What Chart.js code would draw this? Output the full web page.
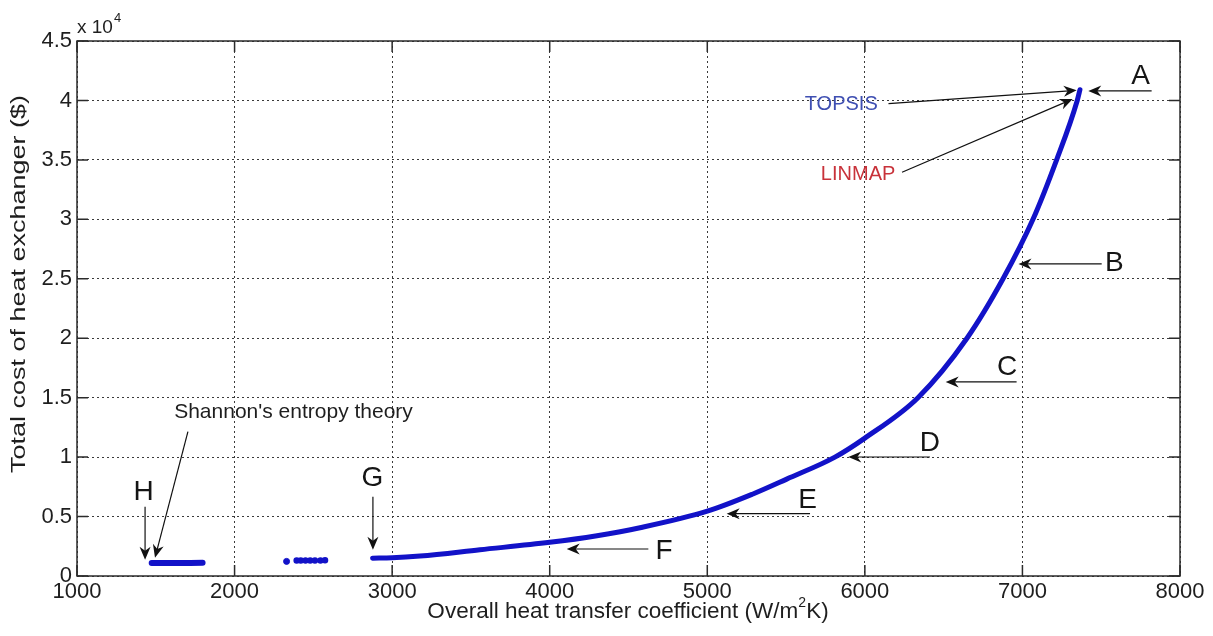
<!DOCTYPE html>
<html>
<head>
<meta charset="utf-8">
<script src="https://cdn.jsdelivr.net/npm/chart.js@4.4.1/dist/chart.umd.min.js"></script>
<style>
  html, body { margin: 0; padding: 0; background: #ffffff; }
  #wrap { width: 1213px; height: 636px; }
</style>
</head>
<body>
<div id="wrap"><canvas id="c" width="1213" height="636"></canvas></div>
<script>
// Pareto front: overall heat transfer coefficient (W/m2K) vs total cost ($)
const frontU    = [2876, 3000, 3177, 3557, 4000, 4300, 4573, 5000, 5290, 5504, 5810, 6000, 6337, 6648, 6877, 7067, 7217, 7348, 7365];
const frontCost = [1500, 1530, 1680, 2210, 2830, 3390, 4060, 5450, 6900, 8150, 10000, 11600, 15000, 20000, 25000, 30000, 35000, 40000, 40900];

// Low-cost branch near point H
const branchHU    = [1474, 1560, 1650, 1720, 1797];
const branchHCost = [1090, 1095, 1100, 1100, 1105];

// Isolated solutions between H and G
const midU    = [2394, 2420, 2450, 2480, 2510, 2545, 2574];
const midCost = [1300, 1310, 1310, 1310, 1310, 1310, 1315];
const lonelyU    = [2330];
const lonelyCost = [1230];

// Axis ticks
const xTicks = [1000, 2000, 3000, 4000, 5000, 6000, 7000, 8000];
const yTicks = [0, 5000, 10000, 15000, 20000, 25000, 30000, 35000, 40000, 45000];

const toPts = (xs, ys) => xs.map((x, i) => ({ x: x, y: ys[i] }));

const BLUE = '#1212c8';
const FONT = '"Liberation Sans", Arial, Helvetica, sans-serif';

// Labels with their arrows, placed in data units
const letterNotes = [
  { t: 'A', at: [7750, 42000], from: [7820, 40800], to: [7418, 40800] },
  { t: 'B', at: [7583, 26300], from: [7503, 26250], to: [6975, 26250] },
  { t: 'C', at: [6902, 17560], from: [6963, 16320], to: [6513, 16320] },
  { t: 'D', at: [6413, 11130], from: [6413, 10010], to: [5895, 10010] },
  { t: 'E', at: [5636, 6350],  from: [5652, 5240],  to: [5123, 5240] },
  { t: 'F', at: [4725, 2070],  from: [4626, 2270],  to: [4108, 2270] },
  { t: 'G', at: [2875, 8230],  from: [2878, 6670],  to: [2878, 2210] },
  { t: 'H', at: [1422, 7010],  from: [1432, 5830],  to: [1432, 1370] }
];
const textNotes = [
  { t: 'TOPSIS', color: '#3f4fb2', size: 20, at: [5850, 39650], from: [6150, 39740], to: [7344, 40850] },
  { t: 'LINMAP', color: '#c8323a', size: 20, at: [5957, 33760], from: [6236, 33960], to: [7319, 40120] },
  { t: "Shannon's entropy theory", color: '#1e1e1e', size: 21, at: [2374, 13740], from: [1704, 12150], to: [1495, 1540] }
];

function arrow(ctx, x1, y1, x2, y2) {
  const ang = Math.atan2(y2 - y1, x2 - x1);
  const L = 13, W = 5.5, N = 4;
  ctx.beginPath();
  ctx.moveTo(x1, y1);
  ctx.lineTo(x2 - Math.cos(ang) * N, y2 - Math.sin(ang) * N);
  ctx.stroke();
  ctx.save();
  ctx.translate(x2, y2);
  ctx.rotate(ang);
  ctx.beginPath();
  ctx.moveTo(0, 0);
  ctx.lineTo(-L, -W);
  ctx.lineTo(-L + N, 0);
  ctx.lineTo(-L, W);
  ctx.closePath();
  ctx.fill();
  ctx.restore();
}

const decorPlugin = {
  id: 'decor',
  afterDraw(chart) {
    const ctx = chart.ctx;
    const a = chart.chartArea;
    const xs = chart.scales.x, ys = chart.scales.y;
    const px = v => xs.getPixelForValue(v), py = v => ys.getPixelForValue(v);
    ctx.save();

    // box and inward tick marks
    ctx.strokeStyle = '#2b2b2b';
    ctx.lineWidth = 1.5;
    ctx.setLineDash([]);
    ctx.strokeRect(a.left, a.top, a.right - a.left, a.bottom - a.top);
    const tl = 11;
    ctx.beginPath();
    xs.ticks.forEach(t => {
      const x = px(t.value);
      ctx.moveTo(x, a.bottom); ctx.lineTo(x, a.bottom - tl);
      ctx.moveTo(x, a.top);    ctx.lineTo(x, a.top + tl);
    });
    ys.ticks.forEach(t => {
      const y = py(t.value);
      ctx.moveTo(a.left, y);  ctx.lineTo(a.left + tl, y);
      ctx.moveTo(a.right, y); ctx.lineTo(a.right - tl, y);
    });
    ctx.stroke();

    // exponent label
    ctx.fillStyle = '#1e1e1e';
    ctx.textBaseline = 'alphabetic';
    ctx.textAlign = 'left';
    ctx.font = '19px ' + FONT;
    ctx.fillText('x 10', a.left, a.top - 8);
    const w10 = ctx.measureText('x 10').width;
    ctx.font = '13px ' + FONT;
    ctx.fillText('4', a.left + w10 + 1, a.top - 19);

    // x axis title, with superscript
    const xt1 = 'Overall heat transfer coefficient (W/m', xt2 = 'K)';
    const fx = 22.5, fs = 14;
    ctx.textBaseline = 'middle';
    ctx.font = fx + 'px ' + FONT;
    const w1 = ctx.measureText(xt1).width, w3 = ctx.measureText(xt2).width;
    ctx.font = fs + 'px ' + FONT;
    const w2 = ctx.measureText('2').width;
    const total = w1 + w2 + w3;
    const cx = 628, cy = 612;
    const sx = cx - total / 2;
    ctx.font = fx + 'px ' + FONT;
    ctx.fillText(xt1, sx, cy);
    ctx.font = fs + 'px ' + FONT;
    ctx.fillText('2', sx + w1, cy - 9);
    ctx.font = fx + 'px ' + FONT;
    ctx.fillText(xt2, sx + w1 + w2, cy);

    // y axis title
    ctx.save();
    ctx.translate(19, 284);
    ctx.rotate(-Math.PI / 2);
    ctx.textAlign = 'center';
    ctx.font = '21px ' + FONT;
    const yt = 'Total cost of heat exchanger ($)';
    const wy = ctx.measureText(yt).width;
    ctx.scale(378 / wy, 1);
    ctx.fillText(yt, 0, 0);
    ctx.restore();

    // annotations
    ctx.strokeStyle = '#111111';
    ctx.fillStyle = '#111111';
    ctx.lineWidth = 1.2;
    letterNotes.concat(textNotes).forEach(n => {
      arrow(ctx, px(n.from[0]), py(n.from[1]), px(n.to[0]), py(n.to[1]));
    });
    ctx.textAlign = 'center';
    ctx.textBaseline = 'middle';
    ctx.fillStyle = '#151515';
    ctx.font = '28px ' + FONT;
    letterNotes.forEach(n => ctx.fillText(n.t, px(n.at[0]), py(n.at[1])));
    textNotes.forEach(n => {
      ctx.fillStyle = n.color;
      ctx.font = n.size + 'px ' + FONT;
      ctx.fillText(n.t, px(n.at[0]), py(n.at[1]));
    });
    ctx.restore();
  }
};

new Chart(document.getElementById('c'), {
  type: 'scatter',
  data: {
    datasets: [
      { data: toPts(frontU, frontCost), showLine: true, borderColor: BLUE, backgroundColor: BLUE,
        borderWidth: 5, pointRadius: 0, cubicInterpolationMode: 'monotone', borderCapStyle: 'round' },
      { data: toPts(branchHU, branchHCost), showLine: true, borderColor: BLUE, backgroundColor: BLUE,
        borderWidth: 6, pointRadius: 0, borderCapStyle: 'round' },
      { data: toPts(midU, midCost), showLine: true, borderColor: BLUE, backgroundColor: BLUE,
        borderWidth: 2.5, pointRadius: 2, borderCapStyle: 'round' },
      { data: toPts(lonelyU, lonelyCost), borderColor: BLUE, backgroundColor: BLUE, pointRadius: 3 }
    ]
  },
  options: {
    responsive: false,
    animation: false,
    devicePixelRatio: 1,
    layout: { padding: { left: 0, right: 33, top: 41, bottom: 0 } },
    plugins: { legend: { display: false }, tooltip: { enabled: false } },
    scales: {
      x: {
        type: 'linear', min: 1000, max: 8000,
        afterBuildTicks: s => { s.ticks = xTicks.map(v => ({ value: v })); },
        afterFit: s => { s.height = 60; },
        grid: { color: '#3a3a3a', lineWidth: 1, drawTicks: false },
        border: { display: false, dash: [2, 3] },
        ticks: { padding: 3, color: '#1e1e1e', font: { family: FONT, size: 22 },
                 maxRotation: 0, autoSkip: false, callback: v => String(v) }
      },
      y: {
        type: 'linear', min: 0, max: 45000,
        afterBuildTicks: s => { s.ticks = yTicks.map(v => ({ value: v })); },
        afterFit: s => { s.width = 77; },
        grid: { color: '#3a3a3a', lineWidth: 1, drawTicks: false },
        border: { display: false, dash: [2, 3] },
        ticks: { padding: 5, color: '#1e1e1e', font: { family: FONT, size: 22 },
                 callback: v => String(v / 10000) }
      }
    }
  },
  plugins: [decorPlugin]
});
</script>
</body>
</html>
